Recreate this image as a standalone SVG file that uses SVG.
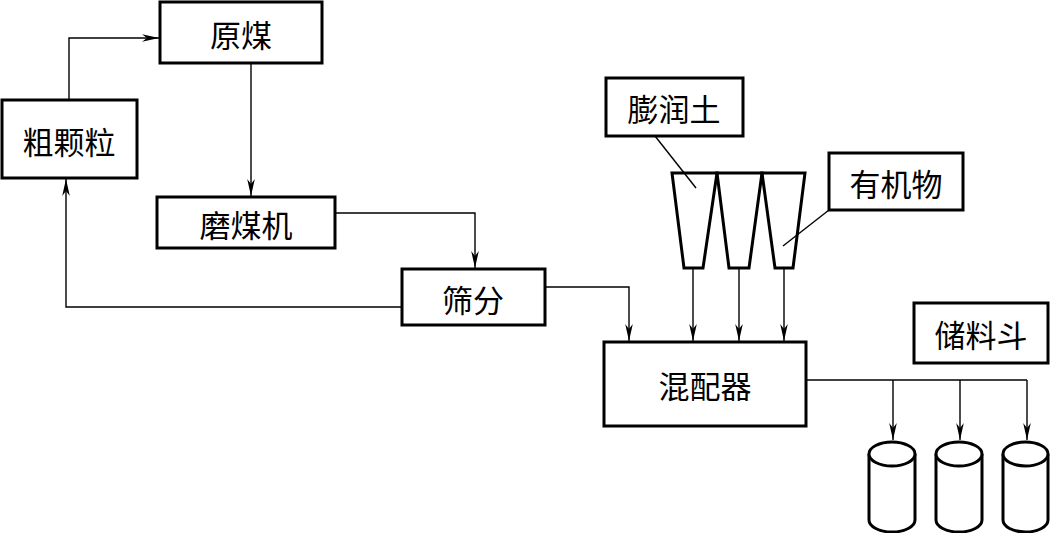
<svg xmlns="http://www.w3.org/2000/svg" width="1050" height="533" viewBox="0 0 1050 533">
<style>
.box{fill:#fff;stroke:#000;stroke-width:3}
.hop{fill:none;stroke:#000;stroke-width:3;stroke-linejoin:miter}
.lbl{font-family:"Noto Sans CJK SC","Noto Sans",sans-serif;font-size:31px;fill:#000;text-anchor:middle;dominant-baseline:central}
.ln{fill:none;stroke:#000;stroke-width:1.4}
.ar{fill:none;stroke:#000;stroke-width:1.4;marker-end:url(#ah)}
</style>
<defs>
<marker id="ah" markerUnits="userSpaceOnUse" markerWidth="20" markerHeight="10" viewBox="-18 -5 20 10" refX="0" refY="0" orient="auto">
<path d="M0,0 L-17,-3.8 L-12,0 L-17,3.8 Z" fill="#000"/>
</marker>
</defs>
<rect width="1050" height="533" fill="#fff"/>
<g id="connectors">
<path class="ar" d="M69,100 V38 H159"/>
<path class="ar" d="M251,63 V196"/>
<path class="ar" d="M335,213 H475 V268"/>
<path class="ar" d="M402,307 H66 V179"/>
<path class="ar" d="M545,287 H629 V341"/>
<path class="ar" d="M693,269 V341"/>
<path class="ar" d="M739,269 V341"/>
<path class="ar" d="M784,269 V341"/>
<path class="ln" d="M806,380 H1027"/>
<path class="ar" d="M893,380 V440"/>
<path class="ar" d="M960,380 V440"/>
<path class="ar" d="M1027,380 V440"/>
<path class="ln" d="M655,136 L696,188"/>
<path class="ln" d="M829,210 L783,246"/>
</g>
<g id="yuanmei"><rect class="box" x="160" y="2" width="162" height="61"/><text class="lbl" x="241" y="33">原煤</text></g>
<g id="cukeli"><rect class="box" x="2" y="100" width="135" height="78"/><text class="lbl" x="69" y="140">粗颗粒</text></g>
<g id="momeiji"><rect class="box" x="157" y="197" width="178" height="51"/><text class="lbl" x="246" y="223">磨煤机</text></g>
<g id="shaifen"><rect class="box" x="402" y="269" width="143" height="56"/><text class="lbl" x="473" y="298">筛分</text></g>
<g id="pengruntu"><rect class="box" x="606" y="78" width="137" height="58"/><text class="lbl" x="674" y="107">膨润土</text></g>
<g id="youjiwu"><rect class="box" x="829" y="153" width="134" height="57"/><text class="lbl" x="896" y="182">有机物</text></g>
<g id="hoppers">
<path class="hop" d="M672,173 L717,173 L703,268 L684,268 Z"/>
<path class="hop" d="M717,173 L762,173 L749,268 L729,268 Z"/>
<path class="hop" d="M762,173 L805,173 L793,268 L775,268 Z"/>
</g>
<g id="hunpeiqi"><rect class="box" x="604" y="342" width="202" height="84"/><text class="lbl" x="705" y="384">混配器</text></g>
<g id="chuliaodou"><rect class="box" x="914" y="303" width="134" height="60"/><text class="lbl" x="981" y="333">储料斗</text></g>
<g id="bins">
<g><path class="box" d="M869,454 V520 A23,12 0 0 0 915,520 V454"/><ellipse class="box" cx="892" cy="454" rx="23" ry="12"/></g>
<g><path class="box" d="M936,454 V520 A23,12 0 0 0 982,520 V454"/><ellipse class="box" cx="959" cy="454" rx="23" ry="12"/></g>
<g><path class="box" d="M1003,454 V520 A22.5,12 0 0 0 1048,520 V454"/><ellipse class="box" cx="1025.5" cy="454" rx="22.5" ry="12"/></g>
</g>
</svg>
